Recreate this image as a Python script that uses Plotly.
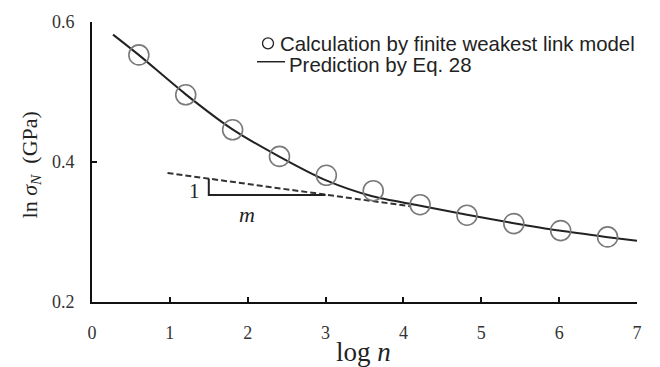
import plotly.graph_objects as go

# Finite weakest link model results (log n, ln sigma_N)
calc_logn = [0.602, 1.204, 1.806, 2.408, 3.010, 3.612, 4.214, 4.816, 5.418, 6.020, 6.622]
calc_sigma = [0.553, 0.496, 0.446, 0.408, 0.381, 0.359, 0.339, 0.324, 0.312, 0.302, 0.293]

# Eq. 28 prediction curve
pred_logn = [0.27, 0.6, 1.2, 1.8, 2.4, 3.0, 3.6, 4.2, 4.8, 5.4, 6.0, 6.6, 7.0]
pred_sigma = [0.582, 0.553, 0.497, 0.447, 0.408, 0.374, 0.351, 0.338, 0.325, 0.313, 0.302, 0.293, 0.2875]

# Asymptote of slope m
asym_logn = [0.97, 4.1]
asym_sigma = [0.3843, 0.3366]

# Slope triangle (rise 1, run m)
tri_logn = [1.5, 1.5, 3.0]
tri_sigma = [0.376, 0.353, 0.353]

x_ticks = [0, 1, 2, 3, 4, 5, 6, 7]
y_ticks = [0.2, 0.4, 0.6]

serif = "Liberation Serif, Times New Roman, serif"
sans = "Liberation Sans, Arial, sans-serif"

fig = go.Figure()

fig.add_trace(go.Scatter(
    x=asym_logn, y=asym_sigma, mode="lines",
    line=dict(color="#333333", width=2, dash="6px,3px"),
    showlegend=False, hoverinfo="skip"))

fig.add_trace(go.Scatter(
    x=tri_logn, y=tri_sigma, mode="lines",
    line=dict(color="#222222", width=2),
    showlegend=False, hoverinfo="skip"))

fig.add_trace(go.Scatter(
    x=pred_logn, y=pred_sigma, mode="lines",
    line=dict(color="#222222", width=2, shape="spline", smoothing=0.8),
    showlegend=False))

fig.add_trace(go.Scatter(
    x=calc_logn, y=calc_sigma, mode="markers",
    marker=dict(symbol="circle-open", size=20, color="#7a7a7a",
                line=dict(width=1.6, color="#7a7a7a")),
    showlegend=False))

W, H = 660, 367
L, R, T, B = 92, 23, 13, 65
pw, ph = W - L - R, H - T - B


def px(x):
    return (x - L) / pw


def py(y):
    return (H - B - y) / ph


annotations = [
    dict(text="1", x=1.32, y=0.358, xref="x", yref="y", showarrow=False,
         font=dict(family=serif, size=21, color="#222222")),
    dict(text="<i>m</i>", x=1.99, y=0.3248, xref="x", yref="y", showarrow=False,
         font=dict(family=serif, size=22, color="#222222")),
    dict(text="Calculation by finite weakest link model", x=px(278), y=py(36),
         xref="paper", yref="paper", xanchor="left", yanchor="middle", showarrow=False,
         font=dict(family=sans, size=20.4, color="#222222")),
    dict(text="Prediction by Eq. 28", x=px(287), y=py(57.5),
         xref="paper", yref="paper", xanchor="left", yanchor="middle", showarrow=False,
         font=dict(family=sans, size=20.4, color="#222222")),
    dict(text="ln <i>σ</i><sub><i>N</i></sub>  (GPa)", x=px(31), y=py(161),
         xref="paper", yref="paper", xanchor="center", yanchor="middle", textangle=-90,
         showarrow=False, font=dict(family=serif, size=22, color="#222222")),
    dict(text="log <i>n</i>", x=px(363), y=py(354),
         xref="paper", yref="paper", xanchor="center", yanchor="middle",
         showarrow=False, font=dict(family=serif, size=27, color="#222222")),
]

shapes = [
    dict(type="circle", xref="paper", yref="paper", xsizemode="pixel", ysizemode="pixel",
         xanchor=px(268), yanchor=py(35), x0=-5.5, x1=5.5, y0=-5.5, y1=5.5,
         line=dict(color="#222222", width=1.3)),
    dict(type="line", xref="paper", yref="paper", x0=px(257), x1=px(285),
         y0=py(54), y1=py(54), line=dict(color="#222222", width=1.5)),
]

fig.update_layout(
    width=W, height=H,
    margin=dict(l=L, r=R, t=T, b=B),
    paper_bgcolor="white", plot_bgcolor="white",
    showlegend=False,
    annotations=annotations, shapes=shapes,
    xaxis=dict(range=[0, 7], tickvals=x_ticks, ticks="inside", ticklen=5, tickwidth=2,
               tickcolor="#111111", showline=True, linecolor="#111111", linewidth=2,
               showgrid=False, zeroline=False, ticklabelstandoff=13,
               tickfont=dict(family=serif, size=18, color="#333333")),
    yaxis=dict(range=[0.2, 0.6], tickvals=y_ticks, tickformat=".1f", ticks="inside",
               ticklen=5, tickwidth=2, tickcolor="#111111", showline=True,
               linecolor="#111111", linewidth=2, showgrid=False, zeroline=False,
               ticklabelstandoff=12,
               tickfont=dict(family=serif, size=18, color="#333333")),
)

fig.write_html("out.html")
